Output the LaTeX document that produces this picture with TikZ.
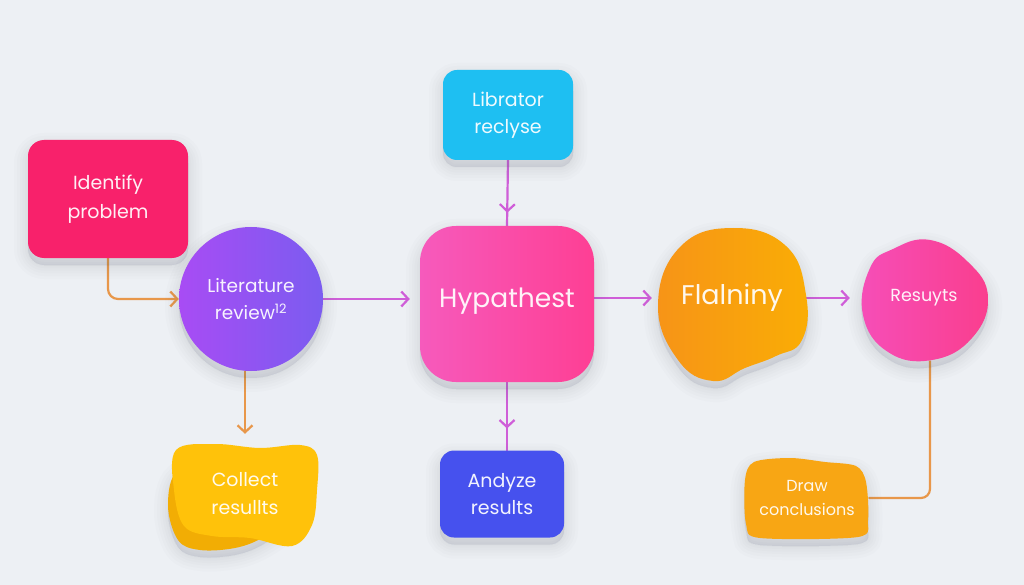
\documentclass[tikz,border=0pt]{standalone}
\usepackage{fontspec}
\setmainfont{Poppins}
\usetikzlibrary{arrows.meta,decorations.markings}
\definecolor{bgc}{HTML}{EDF0F4}
\definecolor{cidp}{HTML}{F8216B}
\definecolor{clitL}{HTML}{A84CF4}
\definecolor{clitR}{HTML}{7B5CF0}
\definecolor{clib}{HTML}{1EBFF2}
\definecolor{chypL}{HTML}{F65ABC}
\definecolor{chypR}{HTML}{FE3F94}
\definecolor{cflaL}{HTML}{F79417}
\definecolor{cflaR}{HTML}{FAAD05}
\definecolor{cresL}{HTML}{F64EB8}
\definecolor{cresR}{HTML}{FA3E8E}
\definecolor{ccol}{HTML}{FFC20A}
\definecolor{ccolB}{HTML}{F2AD04}
\definecolor{cand}{HTML}{4651EE}
\definecolor{cdrw}{HTML}{F8A614}
\definecolor{corg}{HTML}{E8974A}
\definecolor{cvio}{HTML}{CF5ED8}
\definecolor{shc}{HTML}{5A6478}
\newcommand{\fsz}[2]{\fontsize{#1}{#2}\selectfont}
\pgfdeclarelayer{backdrop}
\pgfdeclarelayer{lines}
\pgfsetlayers{backdrop,lines,main}
\tikzset{
  txt/.style={text=white, text opacity=0.93, align=center, inner sep=0pt},
  shl/.style={preaction={fill=shc, fill opacity=0.018, draw=shc, draw opacity=0.018, line width=#1, transform canvas={yshift=-7pt}}},
  box/.style={shl=28pt, shl=22pt, shl=16pt, shl=11pt, shl=6pt, shl=2pt},
  conn/.style={line width=2.2pt, line cap=round},
  arrowtip/.style={-{Straight Barb[length=7pt,width=15pt,line width=2.2pt]}},
  midtip/.style={postaction={decorate}, decoration={markings, mark=at position #1 with {\arrow{Straight Barb[length=7pt,width=15pt,line width=2.2pt]}}}},
  blobnode/.style={draw=none, inner sep=0pt, txt}
}
\begin{document}
\begin{tikzpicture}[x=1pt,y=-1pt]
\begin{pgfonlayer}{backdrop}
\fill[bgc] (0,0) rectangle (1024,585);
\end{pgfonlayer}
\useasboundingbox (0,0) rectangle (1024,585);

% Identify problem
\node[box, fill=cidp, rounded corners=16pt, minimum width=160pt, minimum height=118pt, txt, font=\fsz{19}{29}] (idp) at (108,199) {Identify\\problem};

% Literature review
\node[circle, box, left color=clitL, right color=clitR, minimum size=144pt, txt, font=\fsz{18.5}{27}] (lit) at (251,299) {Literature\\review\textsuperscript{12}};

% Librator reclyse
\node[box, fill=clib, rounded corners=14pt, minimum width=130pt, minimum height=90pt, txt, font=\fsz{19}{27}] (lib) at (508,115) {Librator\\reclyse};

% Hypathest
\node[box, left color=chypL, right color=chypR, rounded corners=36pt, minimum width=174pt, minimum height=156pt, text depth=12pt, txt, font=\fsz{26.5}{30}] (hyp) at (507,304) {Hypathest};

% Flalniny blob
\path[box, left color=cflaL, right color=cflaR] plot[smooth cycle, tension=0.75] coordinates {(680,247) (733,228) (786,246) (806,295) (802,340) (776,356) (745,368) (713,381) (678,360) (658,305)};
\node[blobnode, minimum width=148pt, minimum height=100pt, font=\fsz{27}{30}] (fla) at (732,298) {Flalniny};

% Resuyts blob
\path[box, left color=cresL, right color=cresR] plot[smooth cycle, tension=0.75] coordinates {(870,268) (893,249) (930,240) (968,262) (988,297) (972,338) (932,360) (888,352) (863,315)};
\node[blobnode, minimum width=124pt, minimum height=126pt, font=\fsz{17.5}{24}] (res) at (924,298) {Resuyts};

% Collect results blob
\path[box, fill=ccolB] plot[smooth cycle, tension=0.6] coordinates {(178,470) (220,462) (270,470) (292,495) (285,520) (262,538) (235,548) (200,550) (178,540) (168,505)};
\path[fill=ccol] plot[smooth cycle, tension=0.6] coordinates {(176,450) (215,444) (260,448) (300,445) (317,455) (317,490) (312,525) (292,546) (250,538) (212,536) (184,526) (174,490)};
\node[blobnode, minimum width=146pt, minimum height=96pt, font=\fsz{19}{28}] (col) at (245,494) {Collect\\resullts};

% Andyze results
\node[box, fill=cand, rounded corners=14pt, minimum width=124pt, minimum height=87pt, txt, font=\fsz{19}{27}] (and) at (502,494) {Andyze\\results};

% Draw conclusions blob
\path[box, fill=cdrw] plot[smooth cycle, tension=0.5] coordinates {(754,462) (790,458) (825,462) (856,466) (866,482) (868,520) (858,537) (760,538) (746,524) (745,480)};
\node[blobnode, minimum width=124pt, minimum height=78pt, font=\fsz{16}{24}] (drw) at (807,498) {Draw\\conclusions};

% connectors
\begin{pgfonlayer}{lines}
\draw[conn, corg, arrowtip, rounded corners=10pt] (idp.south) |- (lit.west);
\draw[conn, cvio, arrowtip, shorten >=10pt] (lit.east) -- (lit.east -| hyp.west);
\draw[conn, cvio, midtip=0.8] (lib.south) -- (hyp.north);
\draw[conn, cvio, arrowtip, shorten >=6pt] (hyp.east |- fla.west) -- (fla.west);
\draw[conn, cvio, arrowtip, shorten >=12pt] (fla.east) -- (res.west);
\draw[conn, corg, arrowtip, shorten >=12pt] (lit.south -| col.north) -- (col.north);
\draw[conn, cvio, midtip=0.68] (hyp.south) -- (hyp.south |- and.north);
\draw[conn, corg, rounded corners=9pt] ([xshift=6pt]res.south) |- (drw.east);
\end{pgfonlayer}
\end{tikzpicture}
\end{document}
